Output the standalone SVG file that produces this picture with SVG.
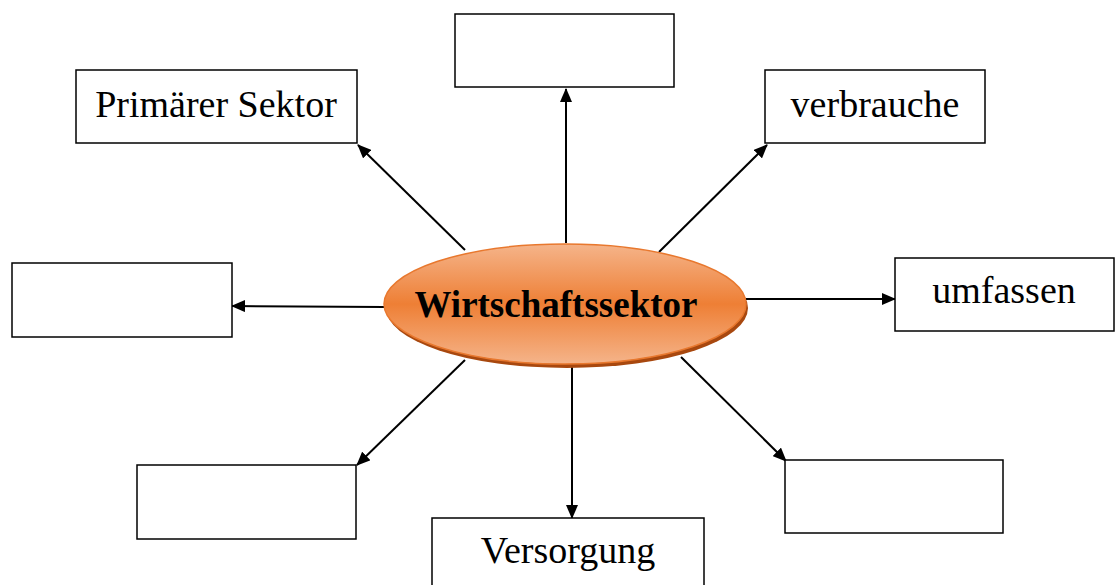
<svg xmlns="http://www.w3.org/2000/svg" width="1115" height="585" viewBox="0 0 1115 585">
<defs>
<style>
.box{fill:#fff;stroke:#000;stroke-width:1.5}
.lbl{font-family:"Liberation Serif","Times New Roman",serif;font-size:38px;text-anchor:middle;fill:#000}
.con{stroke:#000;stroke-width:2;fill:none;marker-end:url(#ah)}
</style>
<marker id="ah" viewBox="0 0 14 12" refX="13" refY="6" markerWidth="14" markerHeight="12" orient="auto" markerUnits="userSpaceOnUse">
<path d="M0,0 L14,6 L0,12 z" fill="#000"/>
</marker>
<linearGradient id="eg" x1="0" y1="0" x2="0" y2="1">
<stop offset="0" stop-color="#f5b48a"/>
<stop offset="0.5" stop-color="#ee7f35"/>
<stop offset="1" stop-color="#f5b48a"/>
</linearGradient>
</defs>
<rect width="1115" height="585" fill="#fff"/>
<g id="connectors">
<line class="con" x1="566" y1="243" x2="566" y2="89"/>
<line class="con" x1="465" y1="250" x2="358" y2="145"/>
<line class="con" x1="659" y1="252" x2="767" y2="145"/>
<line class="con" x1="384" y1="307" x2="232" y2="306"/>
<line class="con" x1="744" y1="299" x2="895" y2="299"/>
<line class="con" x1="465" y1="360" x2="357" y2="465"/>
<line class="con" x1="572" y1="367" x2="572" y2="518"/>
<line class="con" x1="681" y1="357" x2="786" y2="461"/>
</g>
<g id="center">
<ellipse cx="567" cy="308" rx="181" ry="60" fill="#a8480f"/>
<ellipse cx="565" cy="304" rx="181" ry="60" fill="url(#eg)" stroke="#e8782e" stroke-width="1.5"/>
<text x="556" y="317" class="lbl" style="font-weight:bold;font-size:37px">Wirtschaftssektor</text>
</g>
<g id="box-top"><rect class="box" x="455" y="14" width="219" height="73"/></g>
<g id="box-primaer"><rect class="box" x="76" y="70" width="281" height="73"/><text class="lbl" x="216" y="117">Prim&#228;rer Sektor</text></g>
<g id="box-verbrauche"><rect class="box" x="765" y="70" width="220" height="73"/><text class="lbl" x="875" y="117">verbrauche</text></g>
<g id="box-left"><rect class="box" x="12" y="263" width="220" height="74"/></g>
<g id="box-umfassen"><rect class="box" x="895" y="258" width="219" height="73"/><text class="lbl" x="1004" y="303">umfassen</text></g>
<g id="box-bottomleft"><rect class="box" x="137" y="465" width="219" height="74"/></g>
<g id="box-versorgung"><rect class="box" x="432" y="518" width="272" height="75"/><text class="lbl" x="568" y="563">Versorgung</text></g>
<g id="box-bottomright"><rect class="box" x="785" y="460" width="218" height="73"/></g>
</svg>
